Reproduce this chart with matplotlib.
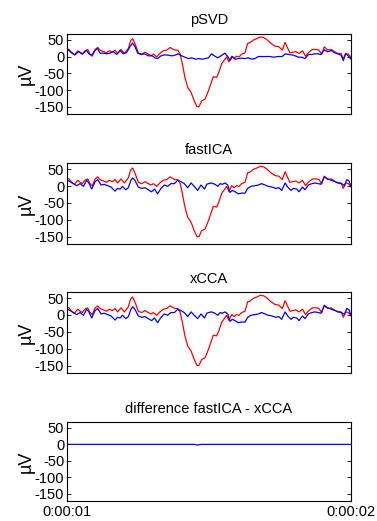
import matplotlib
matplotlib.use("Agg")
import matplotlib.pyplot as plt
import numpy as np

plt.rcParams['font.family'] = ['Liberation Sans', 'DejaVu Sans']

# ---- data (time in ms after 0:00:01, values in microvolts) ----
t_raw = [0, 7, 16, 26, 38, 46, 54, 63, 73, 81, 89, 99, 108, 116, 128, 140, 148, 160, 169, 178,
         190, 202, 216, 224, 231, 239, 251, 263, 275, 286, 296, 304, 316, 327, 339, 351, 363, 371, 380, 390,
         398, 406, 415, 425, 437, 448, 458, 465, 474, 486,
         498, 507, 515, 527, 535, 545, 554, 562, 570, 580, 589, 597, 606, 615, 627, 636, 644, 656, 668, 680,
         691, 703, 718, 732, 746, 758, 768, 775, 785, 797, 805, 817, 829, 840, 852, 864, 879, 887, 897, 906,
         918, 930, 941, 953, 965, 973, 981, 991, 1000]
raw = [23, 21, 11, 5, 17, 11, 7, 17, 21, 7, 1, 21, 27, 19, 15, 11, 17, 13, 19, 9,
       21, 9, 24, 47, 53, 39, 11, 7, 13, 7, 3, 7, -1, 9, 17, 19, 27, 23, 19, 19,
       9, -21, -61, -92, -107, -132, -150, -149, -132, -127,
       -102, -80, -60, -62, -46, -21, -11, -1, -16, 1, -5, 1, -1, 7, 11, 39, 41, 49, 53, 58,
       57, 51, 39, 31, 29, 19, 42, 29, 11, 13, 15, 9, 17, 1, 13, 21, 21, 19, 7, 29,
       19, 21, 15, 9, 9, -7, 9, 7, -3]

t_psvd = [0, 11, 28, 42, 54, 69, 77, 87, 99, 108, 116, 128, 140, 151, 163, 175, 187, 198, 210, 222,
          231, 239, 249, 261, 275, 286, 300, 310, 319, 331, 343, 357, 369, 380, 392, 404, 415, 427, 439, 453,
          465, 477, 486,
          498, 509, 519, 531, 542, 556, 566, 574, 582, 592, 603, 615, 627, 639, 650, 662, 674, 688, 703, 715,
          727, 742, 758, 768, 782, 797, 815, 826, 838, 850, 862, 873, 885, 894, 906, 918, 930, 941, 953, 965,
          973, 981, 988, 1000]
psvd = [22, 15, 5, 15, 8, 18, 8, 4, 18, 24, 10, 10, 8, 10, 15, 6, 18, 8, 12, 30,
        40, 30, 10, 6, 8, 2, 2, -4, -6, 2, 5, 4, 2, 4, 8, 2, -2, -6, -4, -8,
        -6, -8, -6,
        -4, 8, 2, -4, 2, 10, 0, -12, 0, -8, -6, -5, -6, -4, -8, -6, 0, 0, 0, 0,
        -2, 0, 0, 8, 6, 4, -2, -2, -6, 6, 6, 8, 8, 6, 20, 14, 18, 12, 8, 4,
        -12, 8, 4, -8]

t_ica = [0, 11, 22, 34, 46, 58, 69, 77, 87, 99, 108, 120, 131, 143, 155, 169, 178, 187, 195, 207,
         216, 225, 231, 239, 251, 263, 275, 286, 298, 308, 319, 331, 343, 354, 366, 378, 390, 401, 413, 425,
         437, 448, 460, 472, 484, 492,
         498, 509, 521, 531, 539, 547, 556, 566, 574, 582, 592, 603, 615, 627, 636, 648, 662, 674, 685, 697,
         709, 721, 735, 746, 756, 768, 777, 789, 797, 809, 817, 829, 838, 850, 862, 873, 885, 894, 906, 918,
         930, 944, 955, 967, 977, 985, 993, 1000]
fastica = [17, 13, 7, 1, 7, -1, 17, 9, -9, 13, 19, 3, 5, 1, -3, -15, -7, -9, -1, -11,
           -5, 17, 24, 17, -3, -7, -5, -11, -17, -9, -23, -7, 3, -1, 7, 7, 17, 13, 7, -5,
           9, -1, -13, 3, -9, 5,
           7, 9, 5, -1, 7, 5, 9, 3, -19, -13, -17, -23, -21, -21, -7, -1, 1, 3, 7, 3,
           -1, -3, -7, -5, -13, 9, -3, -13, -7, -9, -17, -3, -11, 3, 7, 9, 7, 5, 27, 21,
           17, 13, 9, 7, 1, 19, 15, -1]
xcca = [17, 13, 7, 1, 7, -1, 17, 9, -9, 13, 19, 3, 5, 1, -3, -15, -7, -9, -1, -11,
        -5, 17, 24, 17, -3, -7, -5, -11, -17, -9, -23, -7, 3, -1, 7, 7, 17, 13, 7, -5,
        9, -1, -11, 3, -9, 5,
        7, 9, 5, -1, 7, 5, 9, 3, -19, -13, -17, -23, -21, -21, -7, -1, 1, 3, 7, 3,
        -1, -3, -7, -5, -13, 9, -3, -13, -7, -9, -17, -3, -11, 3, 7, 9, 7, 5, 27, 21,
        17, 13, 9, 7, 1, 19, 15, -1]

titles = ['pSVD', 'fastICA', 'xCCA', 'difference fastICA - xCCA']
yticks = [50, 0, -50, -100, -150]
xtick_labels = ['0:00:01', '0:00:02']
ylim = (-171, 67)

# ---- figure ----
W, H = 377, 521
fig = plt.figure(figsize=(W / 100, H / 100), dpi=100)

def box(top, bottom, left=67, right=351):
    return [left / W, 1 - bottom / H, (right - left) / W, (bottom - top) / H]

boxes = [box(34, 114), box(163.3, 244), box(292.3, 372.7), box(422.3, 500.7)]

def sec(ts):
    return 1.0 + np.asarray(ts, dtype=float) / 1000.0

series = [
    [(t_raw, raw, 'red'), (t_psvd, psvd, 'blue')],
    [(t_raw, raw, 'red'), (t_ica, fastica, 'blue')],
    [(t_raw, raw, 'red'), (t_ica, xcca, 'blue')],
    [(t_ica, list(np.array(fastica) - np.array(xcca)), 'blue')],
]

for i, (b, title, lines) in enumerate(zip(boxes, titles, series)):
    ax = fig.add_axes(b)
    for ts, vals, c in lines:
        ax.plot(sec(ts), vals, color=c, lw=0.9)
    ax.set_xlim(1.0, 2.0)
    ax.set_ylim(*ylim)
    ax.set_yticks(yticks)
    ax.set_yticklabels([str(v) for v in yticks], fontsize=10.5)
    ax.tick_params(axis='y', direction='in', length=3, width=0.6, pad=2,
                   right=True, left=True)
    if i == 3:
        ax.set_xticks([1.0, 2.0])
        ax.set_xticklabels(xtick_labels, fontsize=10.5)
        ax.tick_params(axis='x', direction='in', length=3, width=0.6, pad=3, top=True)
    else:
        ax.set_xticks([])
    ax.set_ylabel('µV', fontsize=13, labelpad=0)
    ax.set_title(title, fontsize=10.5, pad=7)
    for s in ax.spines.values():
        s.set_linewidth(0.8)

fig.savefig('out.png', dpi=100)
